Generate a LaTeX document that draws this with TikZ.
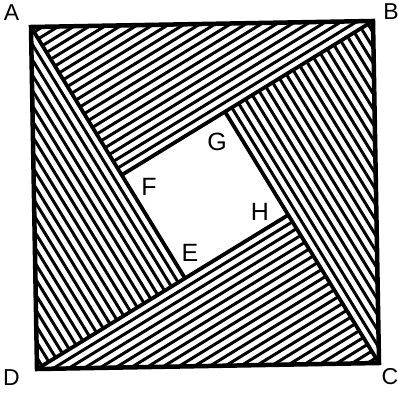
\documentclass[tikz,border=0pt]{standalone}
\usepackage{fontspec}
\setmainfont{Liberation Sans}
\usetikzlibrary{calc}
\tikzset{
    frame/.style={line width=4.5pt, line join=miter},
    leg/.style={line width=3.8pt},
    hatch/.style={line width=3pt},
    corner/.style={inner sep=0pt, font=\fontsize{23}{23}\selectfont},
    inner/.style={inner sep=0pt, font=\fontsize{25}{25}\selectfont}
}
\begin{document}
\begin{tikzpicture}[x=1pt, y=-1pt]
\useasboundingbox (0,0) rectangle (398,396);
\coordinate (A) at (31,27);
\coordinate (B) at (373,21);
\coordinate (C) at (379,363);
\coordinate (D) at (37,369);
\def\ang{30.5}
\coordinate (E) at ($(A)!{cos(\ang)}!\ang:(D)$);
\coordinate (F) at ($(B)!{cos(\ang)}!\ang:(A)$);
\coordinate (G) at ($(C)!{cos(\ang)}!\ang:(B)$);
\coordinate (H) at ($(D)!{cos(\ang)}!\ang:(C)$);
% hatching, parallel to the long leg of each triangle
\foreach \p/\q/\r in {F/B/A, G/C/B, H/D/C, E/A/D}
  \foreach \i in {1,...,21} {
    \pgfmathsetmacro\t{\i*0.046}
    \draw[hatch] ($(\p)!\t!(\r)$) -- ($(\q)!\t!(\r)$);
  }
\draw[leg] (A) -- (E);
\draw[leg] (B) -- (F);
\draw[leg] (C) -- (G);
\draw[leg] (D) -- (H);
\draw[frame] (A) -- (B) -- (C) -- (D) -- cycle;
% labels
\node[corner] (labA) at (11.5,12.5) {A};
\node[corner] (labB) at (391,12) {B};
\node[corner] (labC) at (390,377) {C};
\node[corner] (labD) at (11.5,378) {D};
\node[inner] (labE) at (190,253) {E};
\node[inner] (labF) at (149,187) {F};
\node[inner] (labG) at (217,142) {G};
\node[inner] (labH) at (260,212) {H};
\end{tikzpicture}
\end{document}
